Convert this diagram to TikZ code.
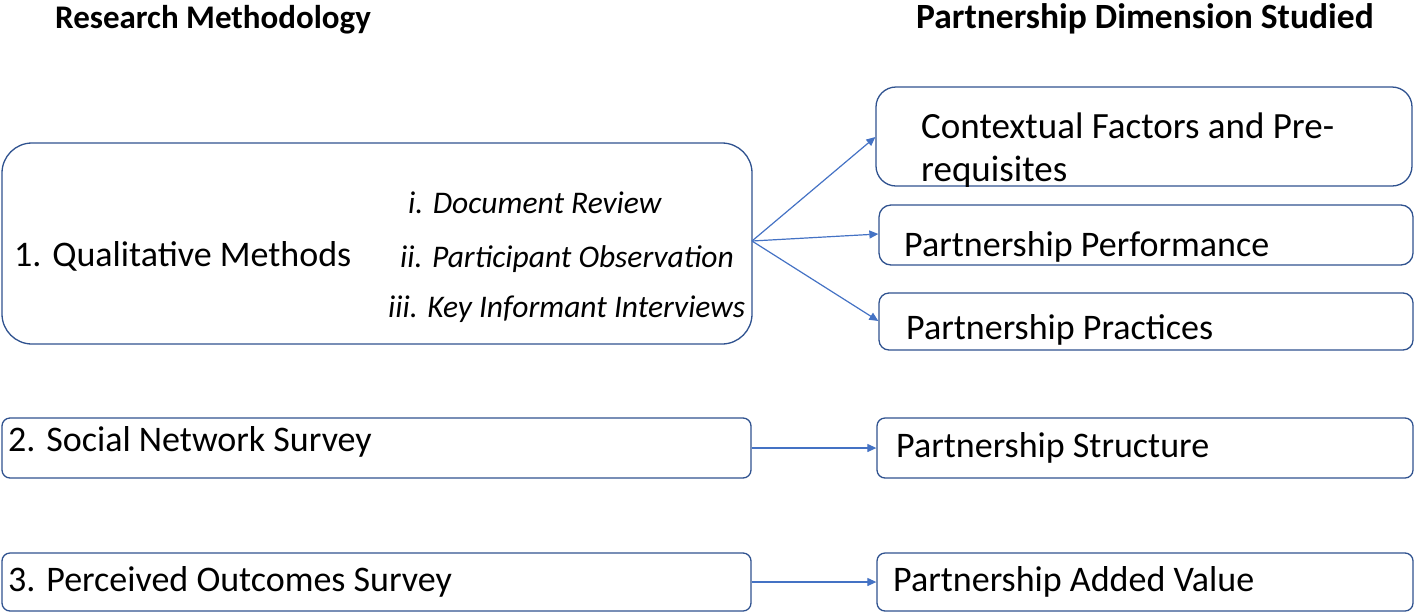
\documentclass[tikz,border=0pt]{standalone}
\usepackage{fontspec}
\setmainfont{Carlito}
\usetikzlibrary{arrows.meta}
\definecolor{boxblue}{HTML}{2F528F}
\definecolor{arrblue}{HTML}{4472C4}
\tikzset{
  box/.style={draw=boxblue, line width=1.3pt, inner sep=0pt},
  conn/.style={draw=arrblue, line width=1.2pt, -{Triangle[length=9pt,width=8pt]}},
  txt/.style={anchor=base west, inner sep=0pt, font=\fontsize{36}{40}\selectfont},
  itxt/.style={anchor=base west, inner sep=0pt, font=\fontsize{31.5}{36}\selectfont\itshape},
  head/.style={anchor=base west, inner sep=0pt, font=\fontsize{34}{38}\selectfont\bfseries},
}
\begin{document}
\begin{tikzpicture}[x=1pt,y=-1pt]
\useasboundingbox (0,0) rectangle (1418,614);
% headers
\node[head, font=\fontsize{33}{38}\selectfont\bfseries] (h1) at (55,28) {Research Methodology};
\node[head, font=\fontsize{35.5}{38}\selectfont\bfseries] (h2) at (916,28) {Partnership Dimension Studied};
% boxes
\draw[box, rounded corners=30pt] (2,143) rectangle (752,344);
\coordinate (qE) at (752,241);
\node[box, rounded corners=20pt, minimum width=536pt, minimum height=99pt] (ctx) at (1144,136.5) {};
\node[box, rounded corners=12pt, minimum width=534pt, minimum height=60pt] (perf) at (1146,235) {};
\node[box, rounded corners=10pt, minimum width=534pt, minimum height=57pt] (prac) at (1146,321.5) {};
\node[box, rounded corners=8pt, minimum width=749pt, minimum height=60pt] (sn) at (376.5,448) {};
\node[box, rounded corners=8pt, minimum width=536pt, minimum height=60pt] (str) at (1145,448) {};
\node[box, rounded corners=8pt, minimum width=749pt, minimum height=58pt] (po) at (376.5,582) {};
\node[box, rounded corners=8pt, minimum width=536pt, minimum height=58pt] (av) at (1145,582) {};
% texts
\node[txt] (t1) at (14,266) {1. Qualitative Methods};
\node[itxt] (i1) at (408,213) {i. Document Review};
\node[itxt] (i2) at (400,267) {ii. Participant Observation};
\node[itxt] (i3) at (388,317) {iii. Key Informant Interviews};
\node[txt, font=\fontsize{37}{40}\selectfont] (c1) at (921,138) {Contextual Factors and Pre-};
\node[txt, font=\fontsize{37}{40}\selectfont] (c2) at (921,181) {requisites};
\node[txt] (p1) at (904,256) {Partnership Performance};
\node[txt] (p2) at (906,339) {Partnership Practices};
\node[txt] (s1) at (8,451) {2. Social Network Survey};
\node[txt] (s2) at (896,457) {Partnership Structure};
\node[txt] (o1) at (8,591) {3. Perceived Outcomes Survey};
\node[txt] (o2) at (893,591) {Partnership Added Value};
% connectors
\draw[conn] (qE) -- (ctx.west |- 0,137) ;
\draw[conn] (qE) -- (perf.west |- 0,234);
\draw[conn] (qE) -- (prac.west |- 0,321);
\draw[conn] (sn.east) -- (str.west);
\draw[conn] (po.east) -- (av.west);
\end{tikzpicture}
\end{document}
